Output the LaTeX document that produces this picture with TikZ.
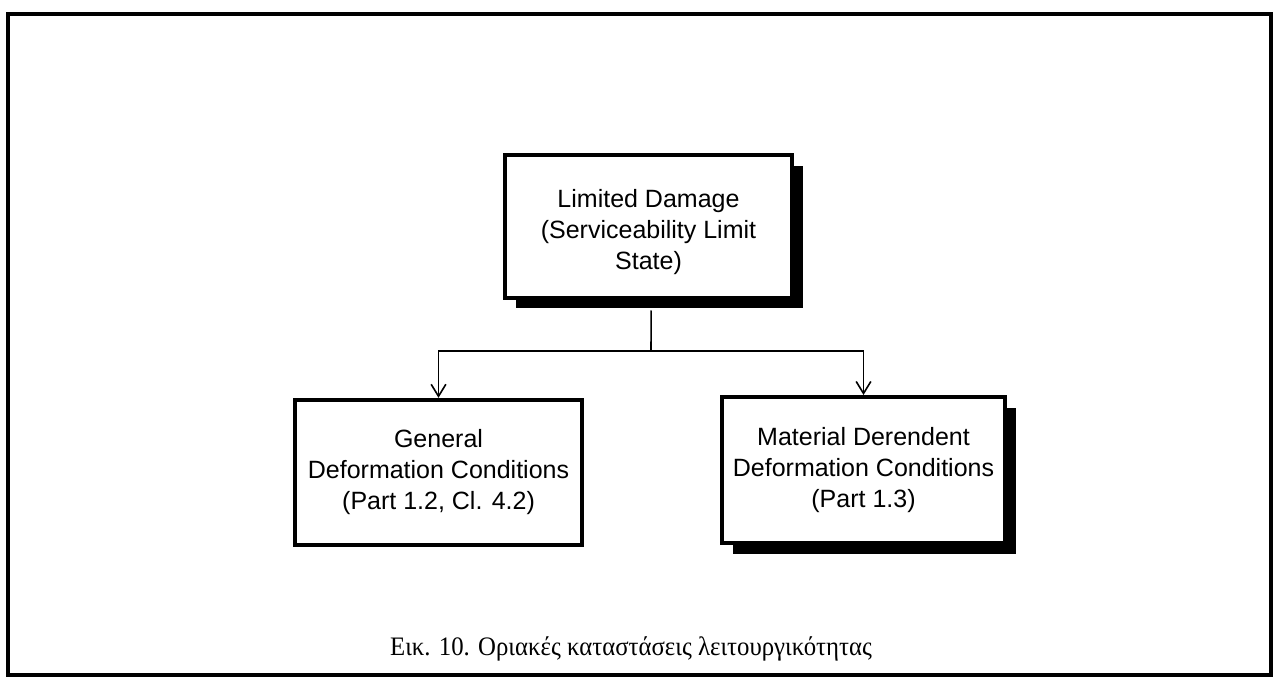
\documentclass[tikz,border=0pt]{standalone}
\usepackage{fontspec}
\setmainfont{Liberation Sans}
\newfontfamily\captionfont[FakeStretch=0.93]{Liberation Serif}
\usetikzlibrary{arrows.meta,shadows}
\begin{document}
\begin{tikzpicture}[x=0.75pt,y=-0.75pt,
  boxtext/.style={align=center,font=\fontsize{18.75}{23.25}\selectfont},
  blockbox/.style={draw=black,line width=3pt,fill=white,boxtext,inner sep=0pt},
  shadowed/.style={drop shadow={shadow xshift=8pt,shadow yshift=-8pt,fill=black,opacity=1}},
  link/.style={line width=1.2pt},
  linkarrow/.style={link,-{Straight Barb[length=9pt,width=11pt,line width=1.2pt]}}
]
\useasboundingbox (0,0) rectangle (1276,680);
% outer frame
\draw[line width=3pt] (8,14) rectangle (1271,675);

% blocks
\node[blockbox,shadowed,minimum width=215pt,minimum height=107pt] (top) at (648.5,226.5) {};
\node[boxtext] (toptext) at ([yshift=-4pt]top.center)
  {Limited Damage\\(Serviceability Limit\\State)};
\node[blockbox,minimum width=215pt,minimum height=109pt] (left) at (438.5,472.5)
  {General\\Deformation Conditions\\(Part 1.2, Cl. 4.2)};
\node[blockbox,shadowed,minimum width=212pt,minimum height=109.5pt] (right) at (863.5,470)
  {Material Derendent\\Deformation Conditions\\(Part 1.3)};

% connectors
\coordinate (split) at (651,351);
\draw[link] ([xshift=2pt,yshift=-8pt]top.south) -- (split);
\draw[linkarrow] (split) -| (left.north);
\draw[linkarrow] (split) -| (right.north);

% caption
\node[font=\captionfont\fontsize{20}{24}\selectfont,anchor=base] (caption) at (631,655)
  {Εικ. 10. Οριακές καταστάσεις λειτουργικότητας};
\end{tikzpicture}
\end{document}
